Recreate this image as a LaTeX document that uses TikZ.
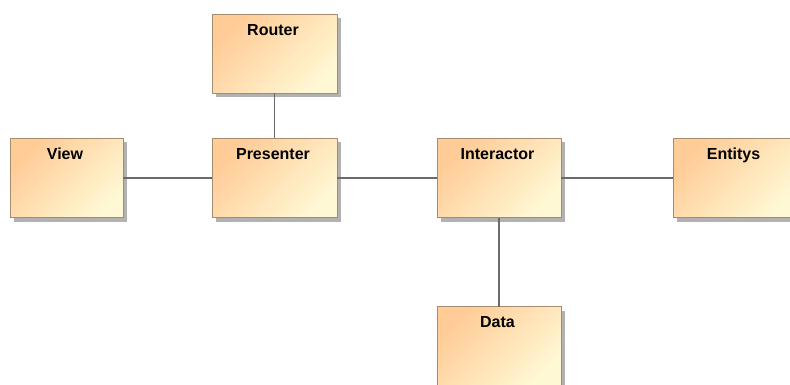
\documentclass[tikz,border=0pt]{standalone}
\usepackage{fontspec}
\setmainfont{Liberation Sans}
\usetikzlibrary{shadows}

\definecolor{boxorange}{HTML}{FFCB96}
\definecolor{boxcream}{HTML}{FFF8D4}
\definecolor{boxedge}{HTML}{A58C6E}
\definecolor{linkgray}{HTML}{6A6A6A}

\begin{document}
\begin{tikzpicture}[
    x=1pt, y=-1pt,
    classbox/.style={rectangle, draw=boxedge, line width=0.9pt,
        top color=boxorange, bottom color=boxcream, shading angle=45,
        drop shadow={shadow xshift=4pt, shadow yshift=-4pt, fill=gray!60, opacity=1},
        minimum width=125pt, minimum height=79pt, inner sep=0pt, outer sep=0pt},
    title/.style={font=\bfseries\fontsize{16}{18}\selectfont, anchor=base, yshift=-21pt, xshift=-1.5pt},
    link/.style={draw=linkgray, line width=1.2pt}
]

    % === Canvas ===
    \useasboundingbox (0,0) rectangle (790,385);
    \clip (0,0) rectangle (790,385);

    % === Boxes ===
    \node[classbox] (router) at (274.5,54) {};
    \node[classbox, minimum width=113pt] (view) at (66.5,178) {};
    \node[classbox] (presenter) at (274.5,178) {};
    \node[classbox, minimum width=124pt] (interactor) at (499,178) {};
    \node[classbox, minimum width=124pt] (entitys) at (735,178) {};
    \node[classbox, minimum width=124pt] (data) at (499,346) {};

    % === Titles ===
    \node[title] (router title) at (router.north) {Router};
    \node[title] (view title) at (view.north) {View};
    \node[title] (presenter title) at (presenter.north) {Presenter};
    \node[title] (interactor title) at (interactor.north) {Interactor};
    \node[title] (entitys title) at (entitys.north) {Entitys};
    \node[title] (data title) at (data.north) {Data};

    % === Links ===
    \draw[link] (router) -- (presenter);
    \draw[link] (view) -- (presenter);
    \draw[link] (presenter) -- (interactor);
    \draw[link] (interactor) -- (entitys);
    \draw[link] (interactor) -- (data);

\end{tikzpicture}
\end{document}
